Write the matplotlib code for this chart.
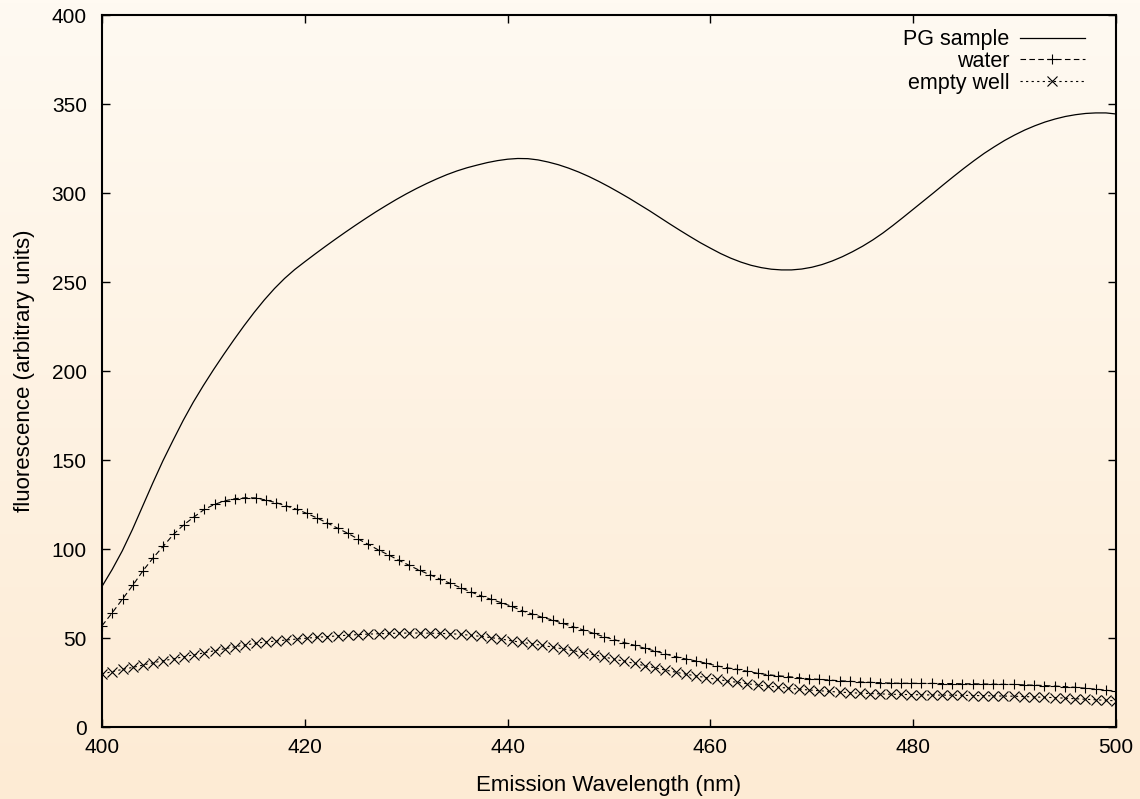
import matplotlib
matplotlib.use("Agg")
import matplotlib.pyplot as plt
import numpy as np
from matplotlib.colors import LinearSegmentedColormap

plt.rcParams['font.family'] = ['Liberation Sans', 'DejaVu Sans']

# PG sample, read every 1 nm
pg_wavelength = np.arange(400, 501)
pg_sample = [79, 88.5, 99, 111, 124, 137, 149.5, 161, 172.2, 182.5,
             191.9, 200.8, 209.3, 217.5, 225.4, 232.9, 239.9, 246.3, 252, 257,
             261.4, 265.7, 269.9, 274, 278, 281.9, 285.7, 289.4, 292.9, 296.3,
             299.5, 302.5, 305.3, 307.9, 310.3, 312.4, 314.2, 315.7, 317.1, 318.2,
             319.0, 319.4, 319.3, 318.6, 317.4, 315.9, 314, 311.8, 309.3, 306.5,
             303.5, 300.3, 297, 293.5, 290, 286.3, 282.6, 279, 275.5, 272.1,
             269, 266, 263.4, 261.2, 259.4, 258.1, 257.2, 256.8, 256.8, 257.3,
             258.3, 259.8, 261.8, 264.2, 267, 270.1, 273.6, 277.5, 281.8, 286.3,
             290.9, 295.5, 300.1, 304.8, 309.4, 313.9, 318.2, 322.3, 326, 329.5,
             332.6, 335.4, 337.8, 339.9, 341.6, 343, 344, 344.7, 345, 345,
             344.4]

# water / empty well: 100 samples from 400 to 500 nm
wavelength = np.linspace(400, 500, 100)
water = [56.9, 64.2, 71.9, 79.6, 87.8, 95.1, 101.7, 108.4, 113.7, 118.1,
         122.3, 125.1, 127.1, 128.3, 128.8, 128.7, 127.5, 126.0, 124.2, 122.3,
         120.0, 117.4, 114.6, 111.7, 108.8, 105.6, 102.6, 99.4, 96.6, 93.6,
         90.8, 88.0, 85.6, 83.1, 80.7, 78.3, 75.9, 73.7, 71.7, 69.8,
         67.8, 65.3, 63.5, 61.6, 60.1, 58.2, 56.3, 54.5, 52.6, 50.7,
         49.1, 47.4, 45.9, 44.2, 42.7, 41.0, 39.5, 38.2, 37.1, 35.8,
         34.4, 33.3, 32.4, 31.3, 30.2, 29.4, 28.8, 28.3, 27.7, 27.1,
         26.8, 26.4, 26.0, 25.7, 25.3, 25.1, 24.9, 24.7, 24.6, 24.6,
         24.5, 24.5, 24.4, 24.4, 24.3, 24.3, 24.2, 24.1, 24.0, 23.9,
         23.7, 23.5, 23.3, 23.0, 22.7, 22.3, 21.8, 21.3, 20.7, 20.0]
empty_well = [29.8, 31.1, 32.4, 33.5, 34.8, 36.1, 37.2, 38.4, 39.5, 40.6,
              41.7, 42.9, 44.0, 45.1, 46.1, 47.0, 47.8, 48.3, 48.9, 49.4,
              49.9, 50.4, 50.8, 51.2, 51.6, 51.9, 52.2, 52.4, 52.6, 52.7,
              52.8, 52.8, 52.7, 52.6, 52.4, 52.1, 51.5, 50.9, 50.2, 49.4,
              48.4, 47.6, 46.7, 45.8, 44.9, 43.9, 42.9, 41.8, 40.6, 39.4,
              38.1, 36.9, 35.7, 34.4, 33.2, 32.0, 30.8, 29.7, 28.7, 27.7,
              26.8, 25.9, 25.1, 24.3, 23.6, 23.0, 22.4, 21.8, 21.3, 20.8,
              20.4, 20.0, 19.6, 19.3, 19.0, 18.8, 18.6, 18.4, 18.3, 18.2,
              18.1, 18.0, 17.9, 17.9, 17.8, 17.7, 17.6, 17.5, 17.4, 17.3,
              17.1, 16.9, 16.7, 16.5, 16.2, 15.9, 15.6, 15.3, 15.0, 14.7]

fig = plt.figure(figsize=(11.4, 7.99), dpi=100)

# background gradient over the whole figure
bg = fig.add_axes([0, 0, 1, 1], zorder=-1)
grad = np.linspace(0, 1, 256).reshape(-1, 1)
cmap = LinearSegmentedColormap.from_list('bg', ['#fffaf2', '#fdebd4'])
bg.imshow(grad, aspect='auto', cmap=cmap, extent=[0, 1, 0, 1], origin='upper')
bg.axis('off')

ax = fig.add_axes([0.0895, 0.0901, 0.8895, 0.8911])
ax.patch.set_alpha(0)

ax.plot(pg_wavelength, pg_sample, color='black', lw=0.9, label='PG sample')
ax.plot(wavelength, water, color='black', lw=0.8, dashes=(5, 3),
        marker='+', ms=7, mew=0.8, label='water')
ax.plot(wavelength, empty_well, color='black', lw=0.8, dashes=(2, 3),
        marker='x', ms=7, mew=0.8, label='empty well')

ax.set_xlim(400, 500)
ax.set_ylim(0, 400)
ax.set_xticks(np.arange(400, 501, 20))
ax.set_yticks(np.arange(0, 401, 50))
ax.tick_params(direction='in', length=6, width=1, labelsize=15,
               top=True, right=True)
ax.tick_params(axis='y', pad=11)
ax.tick_params(axis='x', pad=8)
for s in ax.spines.values():
    s.set_linewidth(1.5)

ax.set_xlabel('Emission Wavelength (nm)', fontsize=16, labelpad=13)
ax.set_ylabel('fluorescence (arbitrary units)', fontsize=16, labelpad=12)

ax.legend(loc='upper right', bbox_to_anchor=(0.9776, 0.9920),
          borderaxespad=0, frameon=False, markerfirst=False, numpoints=1,
          fontsize=15.5, handlelength=3.0, handletextpad=0.5,
          labelspacing=0.03)

fig.savefig('out.png', dpi=100)
